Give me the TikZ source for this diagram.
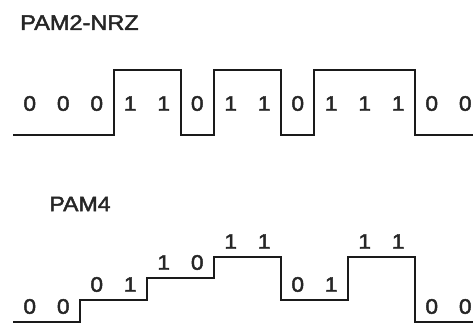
\documentclass[tikz,border=0pt]{standalone}
\usepackage{fontspec}
\usepackage{graphicx}
\setmainfont{Liberation Sans}
\newfontfamily\heavysans[FakeBold=2]{Liberation Sans}
\definecolor{txt}{HTML}{262626}
\definecolor{wave}{HTML}{1A1A1A}
\begin{document}
\begin{tikzpicture}[x=1pt,y=1pt,
  title/.style={inner sep=0pt, text=txt, font=\heavysans\fontsize{21}{23}\selectfont},
  bit/.style={inner sep=0pt, text=txt, font=\heavysans\fontsize{21}{23}\selectfont},
  signal/.style={draw=wave, line width=2.5pt, line join=miter}]
\useasboundingbox (0,0) rectangle (473,327);
% titles
\node[title] (t1) at (79.5,304.5) {\scalebox{1.12}[1]{PAM2-NRZ}};
\node[title] (t2) at (80,123) {\scalebox{1.1}[1]{PAM4}};
% PAM2 waveform
\draw[signal] (13,192) -| (114,257) -| (181,192) -| (214,257) -| (281,192) -| (314,257) -| (415,192) -- (473,192);
% PAM2 bits
\foreach \b [count=\i from 0] in {0,0,0,1,1,0,1,1,0,1,1,1,0,0} {
  \node[bit] (p2-\i) at ({13+33.5*(\i+0.5)},223.5) {\scalebox{1.08}[1]{\b}};
}
% PAM4 waveform
\draw[signal] (13,5) -| (80,27) -| (147,49) -| (214,70) -| (281,27) -| (348,70) -| (415,5) -- (473,5);
% PAM4 bits
\foreach \b/\lv [count=\i from 0] in {0/5,0/5,0/27,1/27,1/49,0/49,1/70,1/70,0/27,1/27,1/70,1/70,0/5,0/5} {
  \node[bit] (p4-\i) at ({13+33.5*(\i+0.5)},{\lv+15.5}) {\scalebox{1.08}[1]{\b}};
}
\end{tikzpicture}
\end{document}
